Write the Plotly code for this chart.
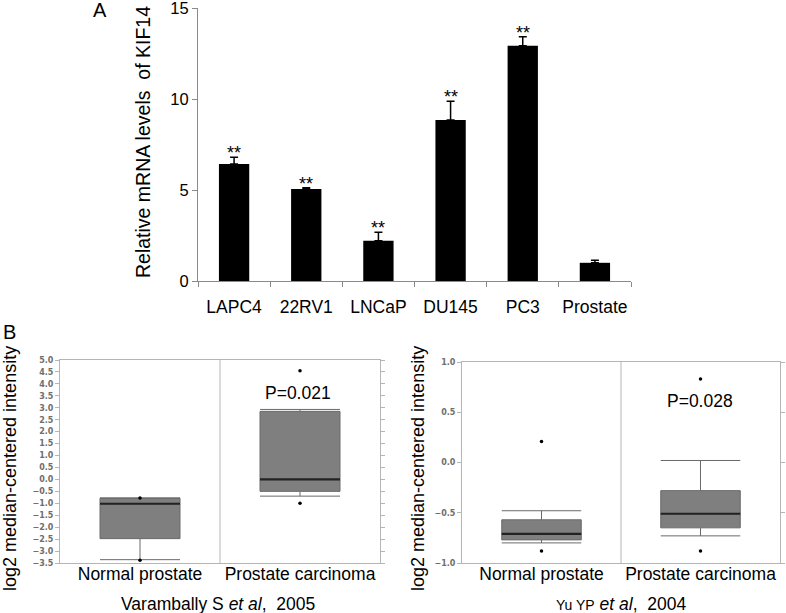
import plotly.graph_objects as go

W, H = 786, 613

# ---- Panel A data ----
cell_lines = ["LAPC4", "22RV1", "LNCaP", "DU145", "PC3", "Prostate"]
mrna_levels = [6.43, 5.05, 2.21, 8.85, 12.93, 1.0]
mrna_err = [0.37, 0.08, 0.47, 1.02, 0.49, 0.14]
signif = ["**", "**", "**", "**", "**", ""]
a_ticks = [0, 5, 10, 15]

# ---- Panel B data ----
groups = ["Normal prostate", "Prostate carcinoma"]
# Varambally S et al, 2005
v_q1 = [-2.48, -0.5]
v_median = [-1.02, 0.0]
v_q3 = [-0.78, 2.85]
v_low = [-3.36, -0.7]
v_high = [-0.78, 2.93]
v_out_x = [0, 0, 1, 1]
v_out_y = [-0.78, -3.38, 4.55, -1.0]
v_p = "P=0.021"
# Yu YP et al, 2004
y_q1 = [-0.77, -0.65]
y_median = [-0.71, -0.51]
y_q3 = [-0.57, -0.28]
y_low = [-0.80, -0.73]
y_high = [-0.48, 0.02]
y_out_x = [0, 0, 1, 1]
y_out_y = [0.21, -0.88, 0.83, -0.88]
y_p = "P=0.028"

FONT = "Liberation Sans, Arial, sans-serif"
BOXW = 0.5

fig = go.Figure()

# Panel A bars
fig.add_trace(go.Bar(
    x=cell_lines, y=mrna_levels, xaxis="x", yaxis="y",
    marker=dict(color="black", line=dict(width=0)), width=0.42,
    error_y=dict(type="data", array=mrna_err, arrayminus=[0] * len(mrna_err),
                 symmetric=False, color="black", thickness=1.5, width=4),
    showlegend=False, hoverinfo="skip"))


def add_boxes(q1, med, q3, lo, hi, ox, oy, xa, ya):
    fig.add_trace(go.Box(
        x=[0, 1], q1=q1, median=med, q3=q3, lowerfence=lo, upperfence=hi,
        xaxis=xa, yaxis=ya, width=BOXW, whiskerwidth=1,
        fillcolor="#7f7f7f", line=dict(color="#6a6a6a", width=1),
        boxpoints=False, showlegend=False, hoverinfo="skip"))
    mx, my = [], []
    for i, m in enumerate(med):
        mx += [i - BOXW / 2, i + BOXW / 2, None]
        my += [m, m, None]
    fig.add_trace(go.Scatter(x=mx, y=my, mode="lines", xaxis=xa, yaxis=ya,
                             line=dict(color="#222222", width=2.2),
                             showlegend=False, hoverinfo="skip"))
    fig.add_trace(go.Scatter(x=ox, y=oy, mode="markers", xaxis=xa, yaxis=ya,
                             marker=dict(color="black", size=3.5),
                             showlegend=False, hoverinfo="skip"))


add_boxes(v_q1, v_median, v_q3, v_low, v_high, v_out_x, v_out_y, "x2", "y2")
add_boxes(y_q1, y_median, y_q3, y_low, y_high, y_out_x, y_out_y, "x3", "y3")


def px_x(p):
    return p / W


def px_y(p):
    return 1 - p / H


tickfont_small = dict(family="DejaVu Sans", size=8, color="#6e6e6e", weight="bold")

layout = dict(
    template="none",
    width=W, height=H, margin=dict(l=0, r=0, t=0, b=0, pad=0),
    paper_bgcolor="white", plot_bgcolor="white",
    font=dict(family=FONT, color="black"),
    xaxis=dict(domain=[px_x(198), px_x(631)], range=[-0.5, 5.5], type="category",
               showline=True, linecolor="#8a8a8a", linewidth=1,
               ticks="outside", ticklen=5, tickcolor="#8a8a8a", tickson="boundaries",
               tickangle=0, automargin=False, ticklabeloverflow="allow",
               ticklabelstandoff=10,
               tickfont=dict(size=17.5, family=FONT), showgrid=False, anchor="y"),
    yaxis=dict(domain=[px_y(281), px_y(8)], range=[0, 15], tickvals=a_ticks,
               showline=True, linecolor="#8a8a8a", linewidth=1,
               ticks="outside", ticklen=5, tickcolor="#8a8a8a", automargin=False,
               ticklabeloverflow="allow",
               tickfont=dict(size=16.5, family=FONT), showgrid=False, zeroline=False,
               anchor="x"),
    xaxis2=dict(domain=[px_x(60), px_x(380)], range=[-0.5, 1.5], tickvals=[0, 1],
                ticktext=groups, tickfont=dict(size=17.5, family=FONT), tickangle=0,
                showline=True, linecolor="#b5b5b5", mirror=True, ticks="",
                ticklabeloverflow="allow", ticklabelstandoff=-5,
                automargin=False, showgrid=False, zeroline=False, anchor="y2"),
    yaxis2=dict(domain=[px_y(563), px_y(360)], range=[-3.5, 5.0], dtick=0.5,
                tick0=0, tickformat=".1f", tickfont=tickfont_small,
                showline=True, linecolor="#b5b5b5", mirror="ticks",
                ticks="outside", ticklen=4, tickcolor="#b5b5b5", automargin=False,
                ticklabeloverflow="allow",
                showgrid=False, zeroline=False, anchor="x2"),
    xaxis3=dict(domain=[px_x(462), px_x(780)], range=[-0.5, 1.5], tickvals=[0, 1],
                ticktext=groups, tickfont=dict(size=17.5, family=FONT), tickangle=0,
                showline=True, linecolor="#b5b5b5", mirror=True, ticks="",
                ticklabeloverflow="allow", ticklabelstandoff=-5,
                automargin=False, showgrid=False, zeroline=False, anchor="y3"),
    yaxis3=dict(domain=[px_y(563), px_y(362)], range=[-1.0, 1.0], dtick=0.5,
                tick0=0, tickformat=".1f", tickfont=tickfont_small,
                showline=True, linecolor="#b5b5b5", mirror="ticks",
                ticks="outside", ticklen=4, tickcolor="#b5b5b5", automargin=False,
                ticklabeloverflow="allow",
                showgrid=False, zeroline=False, anchor="x3"),
)
fig.update_layout(**layout)

# divider lines in panel B
for xa, ya in (("x2", "y2"), ("x3", "y3")):
    fig.add_shape(type="line", xref=xa, yref=ya + " domain", x0=0.5, x1=0.5, y0=0, y1=1,
                  line=dict(color="#b5b5b5", width=1))

ann = []
for c, v, e, s in zip(cell_lines, mrna_levels, mrna_err, signif):
    if s:
        ann.append(dict(x=c, y=v + e, xref="x", yref="y", text=s, showarrow=False,
                        yanchor="bottom", yshift=-8, font=dict(size=18, family=FONT)))
n_star = len(ann)

ann += [
    dict(x=px_x(100), y=px_y(10), text="A", font=dict(size=20)),
    dict(x=px_x(9), y=px_y(332), text="B", font=dict(size=20)),
    dict(x=px_x(143), y=px_y(142), text="Relative mRNA levels  of KIF14",
         textangle=-90, font=dict(size=19.5)),
    dict(x=px_x(10), y=px_y(469), text="log2 median-centered intensity",
         textangle=-90, font=dict(size=18)),
    dict(x=px_x(418), y=px_y(469), text="log2 median-centered intensity",
         textangle=-90, font=dict(size=18)),
    dict(x=px_x(218), y=px_y(604), text="Varambally S <i>et al</i>,  2005",
         font=dict(size=17.5)),
    dict(x=px_x(621), y=px_y(604),
         text="<span style='font-size:14px'>Yu YP</span> <i>et al</i>,  2004",
         font=dict(size=17.5)),
    dict(x=px_x(298), y=px_y(393), text=v_p, font=dict(size=17.5)),
    dict(x=px_x(700), y=px_y(401), text=y_p, font=dict(size=17.5)),
]
for a in ann[n_star:]:
    a.update(xref="paper", yref="paper", showarrow=False, xanchor="center", yanchor="middle")
fig.update_layout(annotations=ann)

fig.write_html("out.html", config={"displayModeBar": False},
               post_script="document.body.style.margin='0';document.body.style.padding='0';"
                           "document.body.style.overflow='hidden';")
